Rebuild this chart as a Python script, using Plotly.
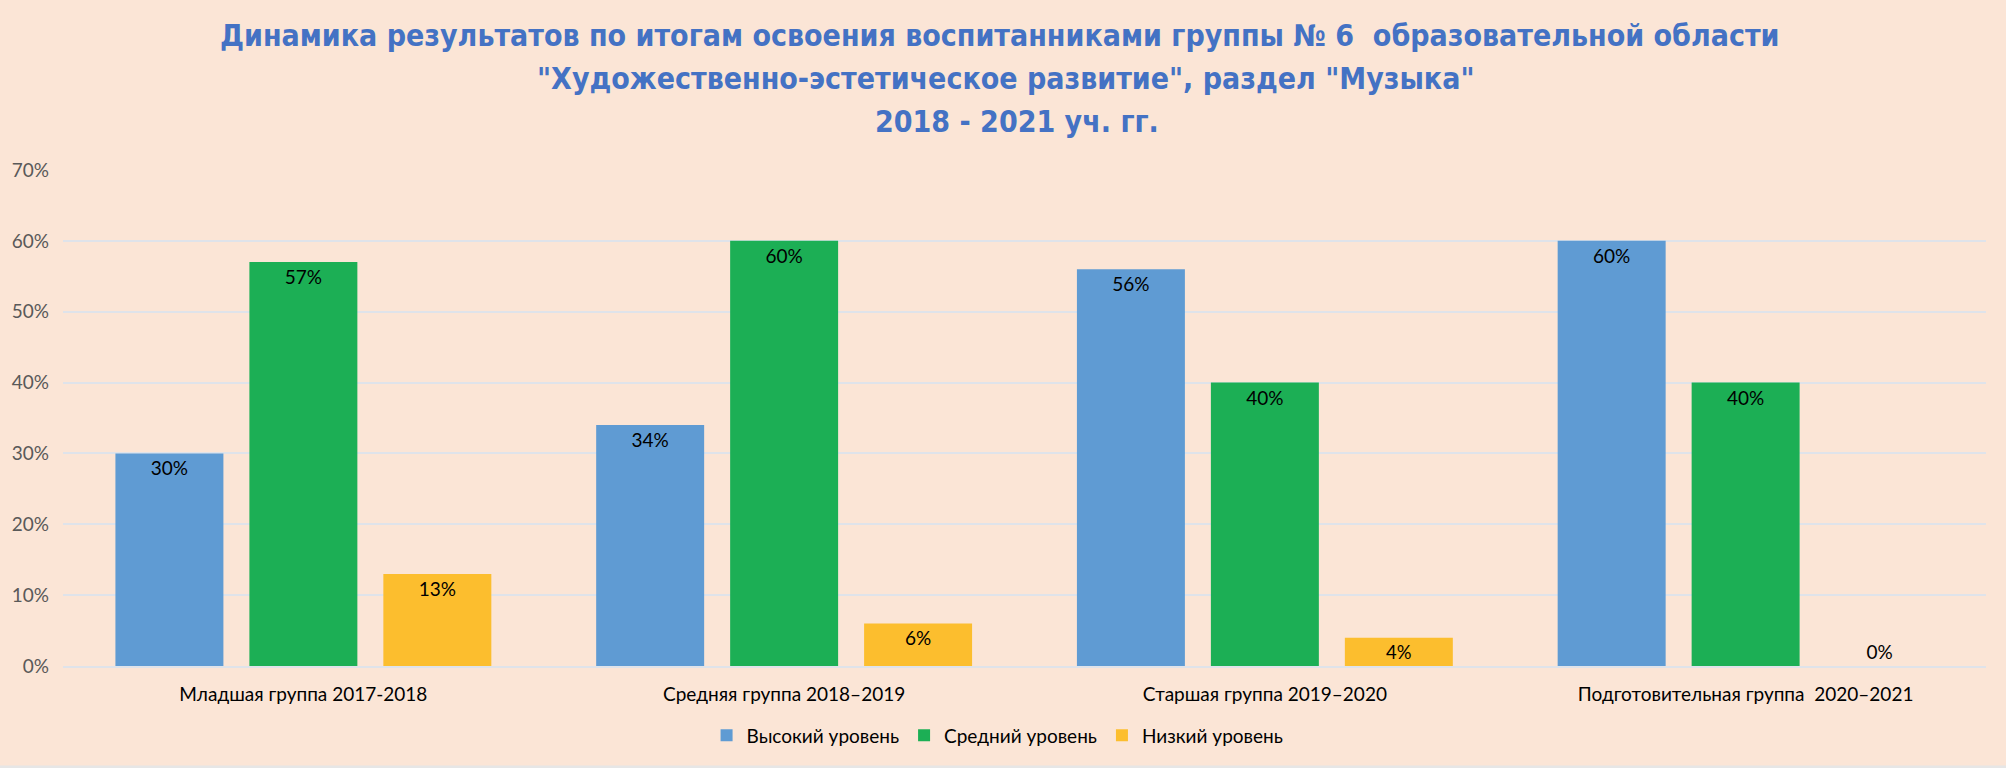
import plotly.graph_objects as go

categories = ["Младшая группа 2017-2018", "Средняя группа 2018–2019",
              "Старшая группа 2019–2020", "Подготовительная группа  2020–2021"]
series_names = ["Высокий уровень", "Средний уровень", "Низкий уровень"]
high = [0.30, 0.34, 0.56, 0.60]
mid = [0.57, 0.60, 0.40, 0.40]
low = [0.13, 0.06, 0.04, 0.00]
colors = ["#5F9BD3", "#1CAF55", "#FCBE2E"]
y_ticks = [0, 0.1, 0.2, 0.3, 0.4, 0.5, 0.6, 0.7]

title_lines = [
    "Динамика результатов по итогам освоения воспитанниками группы № 6  образовательной области",
    "\"Художественно-эстетическое развитие\", раздел \"Музыка\"",
    "2018 - 2021 уч. гг.",
]
title_y = [1.272, 1.185, 1.097]
title_x = [0.487, 0.490, 0.496]

BASE_FONT = "Lato, 'Open Sans', sans-serif"
TITLE_FONT = "'DejaVu Sans Condensed', 'Liberation Sans', sans-serif"

fig = go.Figure()
for name, vals, col in zip(series_names, [high, mid, low], colors):
    fig.add_trace(go.Bar(
        x=categories, y=vals, name=name,
        marker=dict(color=col, line=dict(width=0)),
        text=[f"{round(v*100)}%" for v in vals],
        textposition=["inside" if v > 0 else "outside" for v in vals],
        insidetextanchor="end",
        textfont=dict(color="black", size=19, family=BASE_FONT),
        cliponaxis=False,
    ))

for line, xx, yy in zip(title_lines, title_x, title_y):
    fig.add_annotation(text=line, x=xx, xref="paper", y=yy, yref="paper",
                       xanchor="center", yanchor="middle", showarrow=False,
                       font=dict(family=TITLE_FONT, size=30, color="#4472C4", weight="bold"))

fig.add_shape(type="line", xref="paper", yref="paper", x0=-0.04, x1=1.02,
              y0=-0.2036, y1=-0.2036, line=dict(color="#E6E6E6", width=3))

fig.update_layout(
    width=2006, height=768,
    paper_bgcolor="#FBE5D6", plot_bgcolor="#FBE5D6",
    margin=dict(l=63, r=20, t=170, b=102),
    barmode="group", bargap=0.164, bargroupgap=0.194,
    font=dict(family=BASE_FONT, color="black"),
    legend=dict(orientation="h", x=0.486, xanchor="center", y=-0.14, yanchor="middle",
                font=dict(size=19, color="black"), traceorder="normal"),
    showlegend=True,
)
fig.update_yaxes(range=[0, 0.7], tickvals=y_ticks, tickformat=".0%",
                 showgrid=True, gridcolor="#DFE3EA", gridwidth=2, zeroline=False,
                 showline=False, tickfont=dict(size=19, color="#595959"), ticks="", ticklabelstandoff=13)
fig.update_xaxes(showgrid=False, showline=True, linecolor="#DFE3EA", linewidth=2,
                 tickfont=dict(size=19, color="black"), ticks="", ticklabelstandoff=10)

fig.write_html("out.html")
